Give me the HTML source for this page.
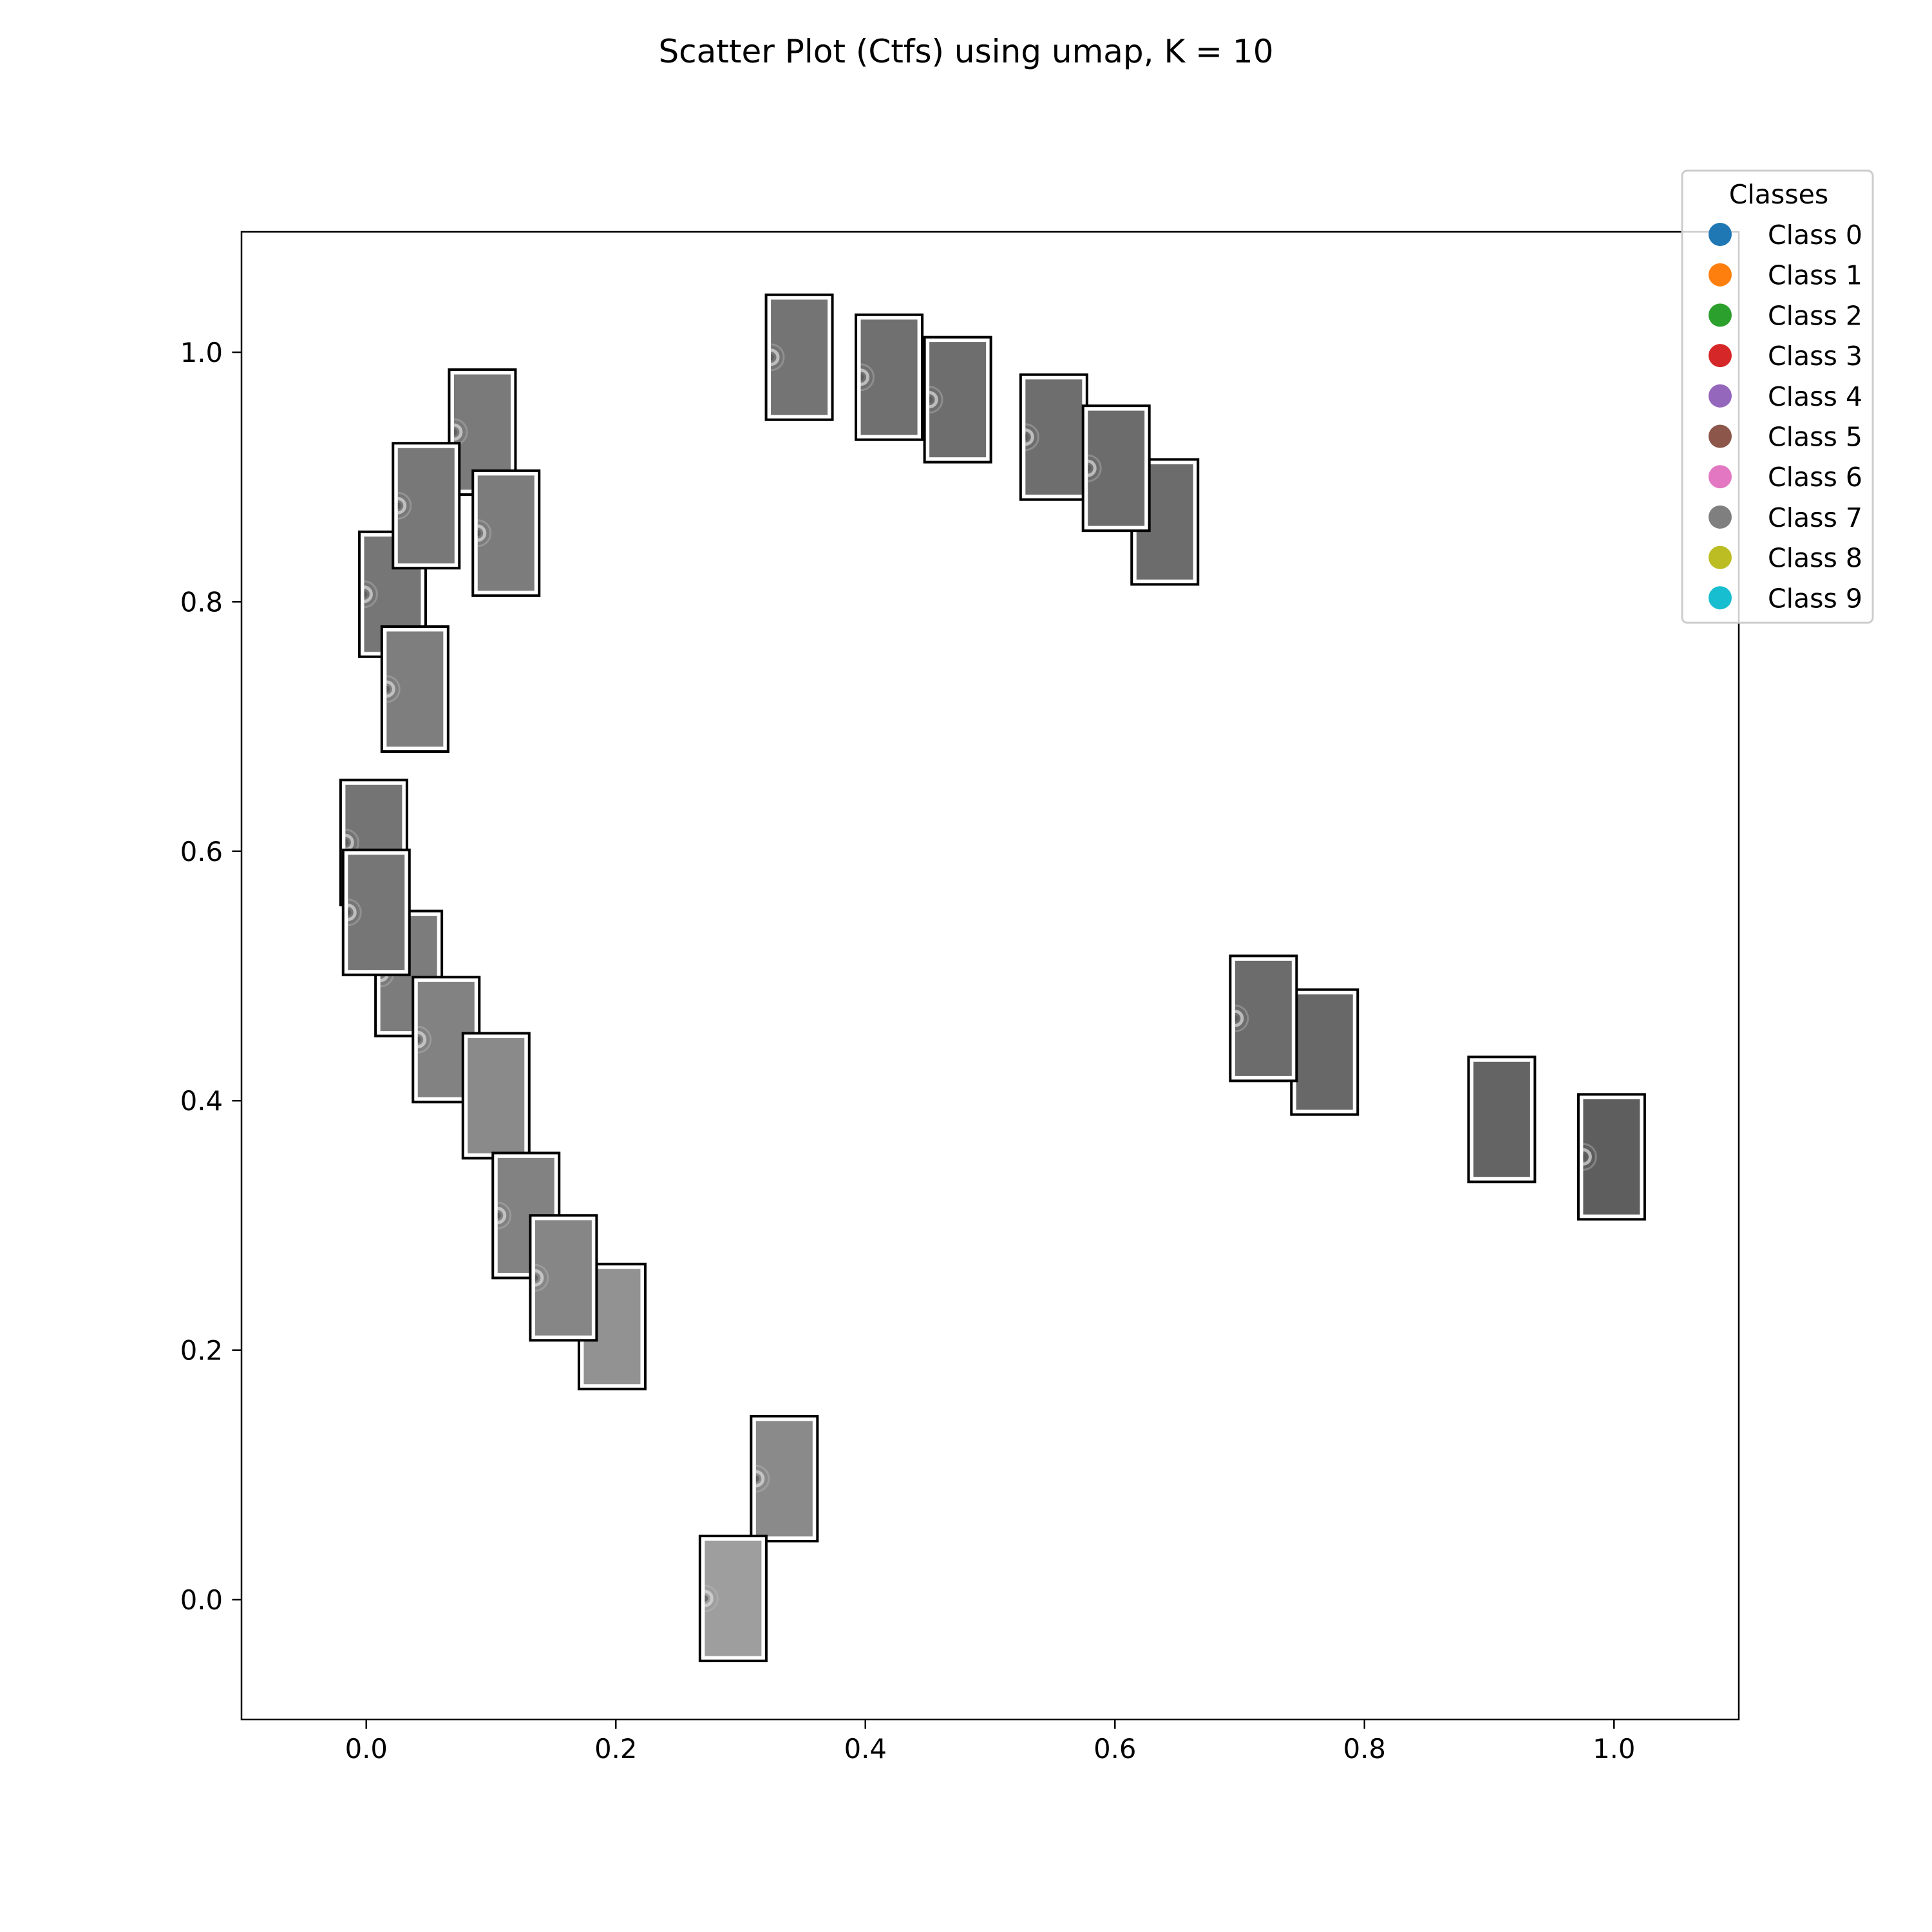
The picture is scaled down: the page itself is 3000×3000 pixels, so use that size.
<!DOCTYPE html>
<html><head><meta charset="utf-8"><style>
html,body{margin:0;padding:0;background:#fff;}
svg{display:block;font-family:"DejaVu Sans","Liberation Sans",sans-serif;}
</style></head><body>
<svg id="chart" width="3000" height="3000" viewBox="0 0 3000 3000" xmlns="http://www.w3.org/2000/svg">
<rect width="3000" height="3000" fill="#fff"/>
<text x="1500" y="97" font-size="50" text-anchor="middle">Scatter Plot (Ctfs) using umap, K = 10</text>
<g id="marks"></g>
<rect x="375" y="360" width="2325" height="2310" fill="none" stroke="#000" stroke-width="2.5"/>
<g id="xticks"></g>
<g id="yticks"></g>
<g id="legend">
<rect x="2612" y="265" width="296" height="702" rx="8" fill="#fff" fill-opacity="0.8" stroke="#cccccc" stroke-width="3"/>
<text x="2762" y="316" font-size="41" text-anchor="middle">Classes</text>
</g>
</svg>
<script>
// UMAP points, drawn in reference layering order
const xs = [0.347,0.419,0.474,0.551,0.640,0.601,0.093,0.021,0.048,0.112,0.039,0.006,0.034,0.008,0.064,0.104,0.128,0.197,0.158,0.335,0.294,0.768,0.719,0.910,0.998];
const ys = [0.996,0.980,0.962,0.932,0.864,0.907,0.936,0.806,0.877,0.855,0.730,0.607,0.502,0.551,0.449,0.404,0.308,0.219,0.258,0.097,0.001,0.439,0.466,0.385,0.355];
const shades = [0x74,0x70,0x6e,0x6e,0x6c,0x6c,0x7a,0x76,0x78,0x7c,0x7e,0x74,0x7c,0x76,0x82,0x8a,0x82,0x92,0x86,0x8a,0x9e,0x68,0x6c,0x64,0x5e];
const rings = [1,1,1,1,0,1,1,1,1,1,1,1,1,1,1,0,1,0,1,1,1,0,1,0,1];
const xTicks = [0.0,0.2,0.4,0.6,0.8,1.0];
const yTicks = [0.0,0.2,0.4,0.6,0.8,1.0];
const classes = ["Class 0","Class 1","Class 2","Class 3","Class 4","Class 5","Class 6","Class 7","Class 8","Class 9"];
const classColors = ["#1f77b4","#ff7f0e","#2ca02c","#d62728","#9467bd","#8c564b","#e377c2","#7f7f7f","#bcbd22","#17becf"];

const NS = "http://www.w3.org/2000/svg";
function sx(v){ return 568.75 + v*1937.5; }
function sy(v){ return 2484 - v*1937; }
function mk(tag, attrs, parent){ const e=document.createElementNS(NS,tag); for(const k in attrs) e.setAttribute(k,attrs[k]); parent.appendChild(e); return e; }

const marks = document.getElementById('marks');
for(let i=0;i<xs.length;i++){
  const cx=sx(xs[i]), cy=sy(ys[i]);
  const g = mk('g',{},marks);
  
  
  const W=106,H=197;
  mk('rect',{x:cx-W/2+1.5,y:cy-H/2+1.5,width:W-3,height:H-3,fill:'#fff',stroke:'#000','stroke-width':4},g);
  const s=shades[i];
  const col='rgb('+s+','+s+','+s+')';
  const ix=cx-W/2+9, iy=cy-H/2+9;
  mk('rect',{x:ix,y:iy,width:88,height:179,fill:col},g);
  if(rings[i]){
    const cl = 'clip'+i;
    const cp = mk('clipPath',{id:cl},g);
    mk('rect',{x:ix,y:iy,width:88,height:179},cp);
    const rg = mk('g',{'clip-path':'url(#'+cl+')'},g);
    mk('circle',{cx:ix,cy:cy,r:11,fill:'none',stroke:'#dddddd','stroke-width':5,'stroke-opacity':0.7},rg);
    mk('circle',{cx:ix,cy:cy,r:20,fill:'none',stroke:'#bbbbbb','stroke-width':3,'stroke-opacity':0.4},rg);
    mk('circle',{cx:ix,cy:cy,r:5,fill:'#555','fill-opacity':0.7},rg);
  }
}

const xt = document.getElementById('xticks');
xTicks.forEach(v=>{
  const x=sx(v);
  const l=mk('line',{x1:x,y1:2670,x2:x,y2:2684.6,stroke:'#000','stroke-width':2.5},xt);
  
  
  const t=mk('text',{x:x,y:2730,'font-size':41.7,'text-anchor':'middle'},xt);
  
  
  t.textContent=v.toFixed(1);
});
const yt = document.getElementById('yticks');
yTicks.forEach(v=>{
  const y=sy(v);
  const l=mk('line',{x1:360.4,y1:y,x2:375,y2:y,stroke:'#000','stroke-width':2.5},yt);
  
  
  const t=mk('text',{x:346,y:y+15,'font-size':41.7,'text-anchor':'end'},yt);
  
  
  t.textContent=v.toFixed(1);
});

const lg = document.getElementById('legend');
classes.forEach((c,i)=>{
  const y=364+i*62.7;
  const g=mk('g',{},lg);
  
  
  mk('circle',{cx:2671,cy:y,r:18,fill:classColors[i]},g);
  const t=mk('text',{x:2745,y:y+15,'font-size':41},g);
  t.textContent=c;
});
</script>
</body></html>
